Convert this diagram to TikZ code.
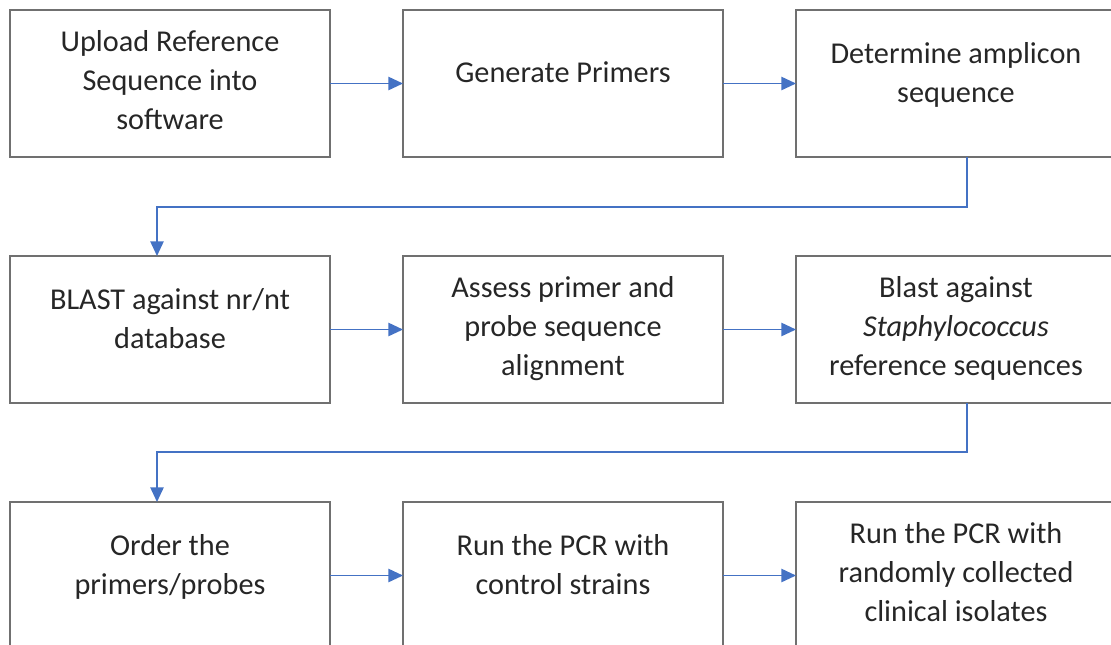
\documentclass[tikz,border=0pt]{standalone}
\usepackage{fontspec}
\setmainfont{Carlito}
\usepackage{tikz}
\usetikzlibrary{positioning,arrows.meta}

\definecolor{boxgray}{RGB}{112,112,112}
\definecolor{flowblue}{RGB}{68,114,196}
\definecolor{textdark}{RGB}{38,38,38}

\begin{document}
\begin{tikzpicture}[x=0.75pt,y=-0.75pt]
\tikzset{lift/.style={execute at end node={\rule[-#1]{0pt}{0pt}}}}
\tikzset{stepbox/.style={draw=boxgray,line width=1.6pt,minimum width=240pt,minimum height=110.25pt,
  inner sep=0pt,outer sep=0pt,align=center,text=textdark,font=\fontsize{22.7}{29.25}\selectfont,lift=5pt}}
\tikzset{shortbox/.style={stepbox,lift=17pt}}
\tikzset{flow/.style={draw=flowblue,line width=1.2pt,-{Triangle[length=11pt,width=10pt]}}}
\tikzset{node distance=74.25pt and 54.75pt}
\useasboundingbox (0,0) rectangle (1111,644);
\clip (0,0) rectangle (1111,644);

% first row
\node[stepbox,anchor=north west] (upload) at (10,10) {Upload Reference\\Sequence into\\software};
\node[shortbox,right=of upload] (primers) {Generate Primers};
\node[shortbox,right=of primers] (amplicon) {Determine amplicon\\sequence};

% second row
\node[shortbox,below=of upload] (blast) {BLAST against nr/nt\\database};
\node[stepbox,right=of blast] (assess) {Assess primer and\\probe sequence\\alignment};
\node[stepbox,right=of assess] (staph) {Blast against\\\textit{Staphylococcus}\\reference sequences};

% third row
\node[shortbox,below=of blast] (order) {Order the\\primers/probes};
\node[shortbox,right=of order] (control) {Run the PCR with\\control strains};
\node[stepbox,right=of control] (clinical) {Run the PCR with\\randomly collected\\clinical isolates};

% connectors
\draw[flow] (upload) -- (primers);
\draw[flow] (primers) -- (amplicon);
\draw[flow] ([xshift=8.25pt]amplicon.south) -- ++(0,50) -| ([xshift=-9.75pt]blast.north);
\draw[flow] (blast) -- (assess);
\draw[flow] (assess) -- (staph);
\draw[flow] ([xshift=8.25pt]staph.south) -- ++(0,49) -| ([xshift=-9.75pt]order.north);
\draw[flow] (order) -- (control);
\draw[flow] (control) -- (clinical);
\end{tikzpicture}
\end{document}
